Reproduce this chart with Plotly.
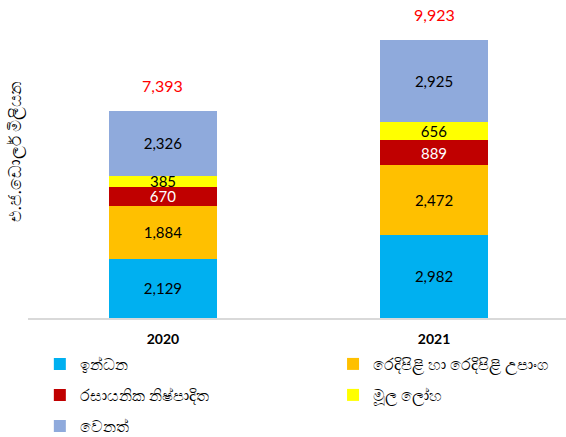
import plotly.graph_objects as go

years = ["2020", "2021"]
series_names = ["ඉන්ධන", "රෙදිපිළි හා රෙදිපිළි උපාංග", "රසායනික නිෂ්පාදිත", "මූල ලෝහ", "වෙනත්"]
fuel = [2129, 2982]
textiles = [1884, 2472]
chemicals = [670, 889]
metals = [385, 656]
other = [2326, 2925]
totals = [7393, 9923]
y_title = "එ.ජ.ඩොලර් මිලියන"

series_values = [fuel, textiles, chemicals, metals, other]
colors = ["#00B0F0", "#FFC000", "#C00000", "#FFFF00", "#8FAADC"]
text_colors = ["black", "black", "white", "black", "black"]
legend_ids = ["legend", "legend2", "legend3", "legend4", "legend5"]

fig = go.Figure()
for name, vals, col, tc, lg in zip(series_names, series_values, colors, text_colors, legend_ids):
    fig.add_trace(go.Bar(
        x=years, y=vals, name=name, legend=lg,
        marker=dict(color=col, line=dict(width=0)),
        text=[f"{v:,}" for v in vals],
        textposition="inside", insidetextanchor="middle",
        constraintext="none",
        textfont=dict(family="Lato, sans-serif", size=15, color=tc),
        hoverinfo="skip",
    ))

for i, t in enumerate(totals):
    fig.add_annotation(x=i, y=t, text=f"{t:,}", showarrow=False,
                       yanchor="bottom", yshift=14,
                       font=dict(family="Lato, sans-serif", size=16, color="#FF0000"))

fig.add_annotation(xref="paper", yref="paper", x=0, y=0.553, xshift=-13,
                   xanchor="center", yanchor="middle",
                   text=y_title, textangle=-90, showarrow=False,
                   font=dict(size=17, color="black"))

legend_common = dict(orientation="v", xanchor="left", yanchor="middle", yref="container",
                     font=dict(size=16, color="black"),
                     bgcolor="rgba(0,0,0,0)", borderwidth=0, itemclick=False)

col1, col2 = 0.022, 0.567
row1, row2, row3 = 0.167, 0.0961, 0.0252

fig.update_layout(
    width=566, height=437,
    margin=dict(l=28, r=0, t=18, b=117),
    barmode="stack", bargap=0.598,
    plot_bgcolor="white", paper_bgcolor="white",
    font=dict(family="Lato, sans-serif", color="black"),
    showlegend=True,
    legend=dict(x=col1, y=row1, **legend_common),
    legend2=dict(x=col2, y=row1, **legend_common),
    legend3=dict(x=col1, y=row2, **legend_common),
    legend4=dict(x=col2, y=row2, **legend_common),
    legend5=dict(x=col1, y=row3, **legend_common),
    xaxis=dict(type="category", categoryorder="array", categoryarray=years,
               range=[-0.498, 1.487],
               showline=True, linecolor="#D9D9D9", linewidth=2, ticks="",
               tickfont=dict(size=14, color="black", weight="bold"),
               ticklabelstandoff=7),
    yaxis=dict(range=[0, 10703], showgrid=False, showticklabels=False,
               zeroline=False, showline=False, ticks=""),
)

fig.write_html("out.html", config={"displayModeBar": False},
               post_script="document.body.style.margin='0';")
